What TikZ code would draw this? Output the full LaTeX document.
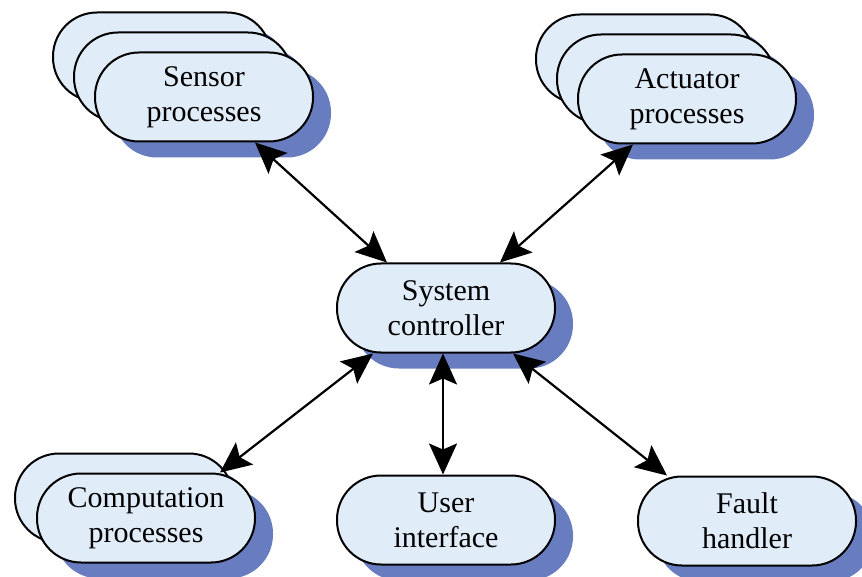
\documentclass[tikz,border=0pt]{standalone}
\usepackage{fontspec}
\setmainfont{Liberation Serif}
\usetikzlibrary{arrows.meta}
\usetikzlibrary{positioning}
\usetikzlibrary{shadows}
\definecolor{boxfill}{RGB}{224,236,248}
\definecolor{shadowblue}{RGB}{104,124,192}

\begin{document}
\begin{tikzpicture}[x=1pt,y=-1pt,
  proc/.style={draw,line width=2pt,fill=boxfill,rounded corners=44pt,minimum width=218pt,minimum height=89pt,
    inner sep=0pt,align=center,font=\fontsize{30}{35}\selectfont,
    drop shadow={shadow xshift=18pt,shadow yshift=-16pt,fill=shadowblue,opacity=1}},
  link/.style={line width=2.2pt,{Stealth[length=31pt,width=28pt,inset=6pt]}-{Stealth[length=31pt,width=28pt,inset=6pt]}}]
  \useasboundingbox (0,0) rectangle (862,577);

  \node[proc] (sensor3) at (162,57){};
  \node[proc] (sensor2) at ([shift={(21,20)}]sensor3){};
  \node[proc] (sensor) at ([shift={(21,20)}]sensor2){Sensor\\processes};

  \node[proc] (act3) at (645,59){};
  \node[proc] (act2) at ([shift={(21,20)}]act3){};
  \node[proc] (act) at ([shift={(21,20)}]act2){Actuator\\processes};

  \node[proc] (ctrl) at (446,308){System\\controller};

  \node[proc] (comp2) at (124,498){};
  \node[proc] (comp) at ([shift={(22,20)}]comp2){Computation\\processes};

  \node[proc] (user) at (446,520){User\\interface};
  \node[proc] (fault) at (747,521){Fault\\handler};

  \draw[link]([xshift=51pt]sensor.south)--([xshift=-59pt]ctrl.north);
  \draw[link]([xshift=-54pt]act.south)--([xshift=54pt]ctrl.north);
  \draw[link]([xshift=-73pt]ctrl.south)--([xshift=74pt]comp.north);
  \draw[link]([xshift=-3pt]ctrl.south)--([xshift=-3pt]user.north);
  \draw[link]([xshift=67pt]ctrl.south)--([xshift=-80pt]fault.north);
\end{tikzpicture}
\end{document}
